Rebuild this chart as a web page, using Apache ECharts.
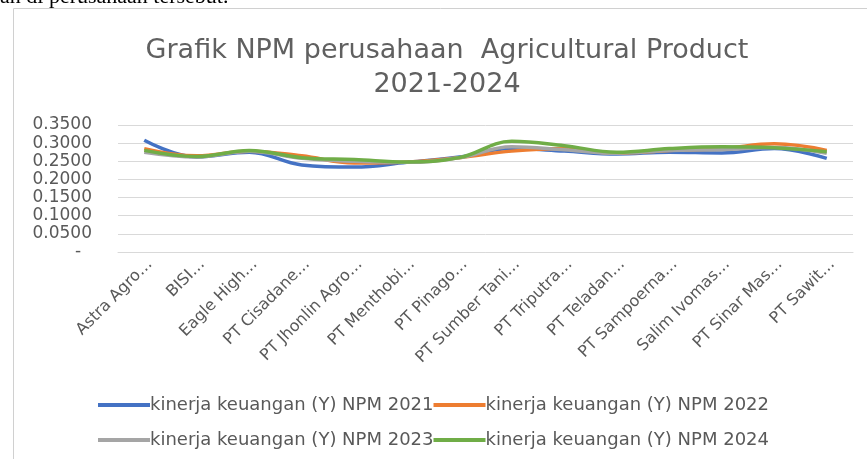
<!DOCTYPE html>
<html>
<head>
<meta charset="utf-8">
<script src="https://cdn.jsdelivr.net/npm/echarts@6/dist/echarts.min.js"></script>
<style>
html,body{margin:0;padding:0;background:#fff;}
#c{width:867px;height:459px;}
</style>
</head>
<body>
<div id="c"></div>
<script>
var categories = ['Astra Agro…','BISI…','Eagle High…','PT Cisadane…','PT Jhonlin Agro…','PT Menthobi…','PT Pinago…','PT Sumber Tani…','PT Triputra…','PT Teladan…','PT Sampoerna…','Salim Ivomas…','PT Sinar Mas…','PT Sawit…'];
var seriesNames = ['kinerja keuangan (Y) NPM 2021','kinerja keuangan (Y) NPM 2022','kinerja keuangan (Y) NPM 2023','kinerja keuangan (Y) NPM 2024'];
var npm2021 = [0.308, 0.262, 0.275, 0.240, 0.234, 0.247, 0.262, 0.285, 0.278, 0.270, 0.275, 0.273, 0.285, 0.258];
var npm2022 = [0.285, 0.265, 0.278, 0.265, 0.245, 0.248, 0.260, 0.278, 0.285, 0.272, 0.280, 0.285, 0.298, 0.280];
var npm2023 = [0.275, 0.262, 0.278, 0.258, 0.250, 0.247, 0.260, 0.290, 0.282, 0.272, 0.280, 0.282, 0.288, 0.272];
var npm2024 = [0.280, 0.263, 0.280, 0.260, 0.255, 0.248, 0.260, 0.305, 0.293, 0.275, 0.285, 0.290, 0.287, 0.276];
var yTicks = {min: 0, max: 0.35, interval: 0.05};

var colors = ['#4472C4','#ED7D31','#A5A5A5','#70AD47'];
var allData = [npm2021, npm2022, npm2023, npm2024];
var txt = '#595959';
var font = 'DejaVu Sans';

var chart = echarts.init(document.getElementById('c'));
chart.setOption({
  animation: false,
  color: colors,
  textStyle: {fontFamily: font},
  title: {
    text: 'Grafik NPM perusahaan  Agricultural Product\n2021-2024',
    left: 442, top: 29, textAlign: 'center',
    textStyle: {fontFamily: font, fontSize: 27, fontWeight: 'normal', color: '#606060', lineHeight: 34}
  },
  legend: [
    {data: seriesNames.slice(0,2), left: 'center', top: 391, icon: 'rect', itemWidth: 52, itemHeight: 4, itemGap: 0,
     textStyle: {fontFamily: font, fontSize: 18, color: txt, padding: [0,0,0,-5]}},
    {data: seriesNames.slice(2,4), left: 'center', top: 426, icon: 'rect', itemWidth: 52, itemHeight: 4, itemGap: 0,
     textStyle: {fontFamily: font, fontSize: 18, color: txt, padding: [0,0,0,-5]}}
  ],
  grid: {left: 118, right: 14, top: 125, bottom: 207, containLabel: false},
  xAxis: {
    type: 'category', data: categories, boundaryGap: true,
    axisLine: {lineStyle: {color: '#d9d9d9', width: 1}},
    axisTick: {show: false},
    axisLabel: {rotate: 45, fontSize: 16, color: txt, fontFamily: font, margin: 4, interval: 0, verticalAlign: 'top'}
  },
  yAxis: {
    type: 'value', min: yTicks.min, max: yTicks.max, interval: yTicks.interval,
    axisLine: {show: false}, axisTick: {show: false},
    splitLine: {lineStyle: {color: '#d9d9d9', width: 1}},
    axisLabel: {fontSize: 17, color: txt, fontFamily: font, margin: 26,
      formatter: function(v){ return Math.abs(v) < 1e-9 ? '-  ' : v.toFixed(4); }}
  },
  series: allData.map(function(d, i){
    return {name: seriesNames[i], type: 'line', data: d, smooth: 0.4, showSymbol: false,
            lineStyle: {width: 3.5, color: colors[i]}, itemStyle: {color: colors[i]}};
  }),
  graphic: [
    {type: 'polyline', shape: {points: [[13.5,459],[13.5,8.5],[867,8.5]]}, style: {stroke: '#d0d0d0', lineWidth: 1, fill: null}},
    {type: 'text', x: 0, y: 8, style: {text: 'an di perusahaan tersebut.', font: '22px "Liberation Serif"', fill: '#000', verticalAlign: 'bottom'}}
  ]
});
</script>
</body>
</html>
